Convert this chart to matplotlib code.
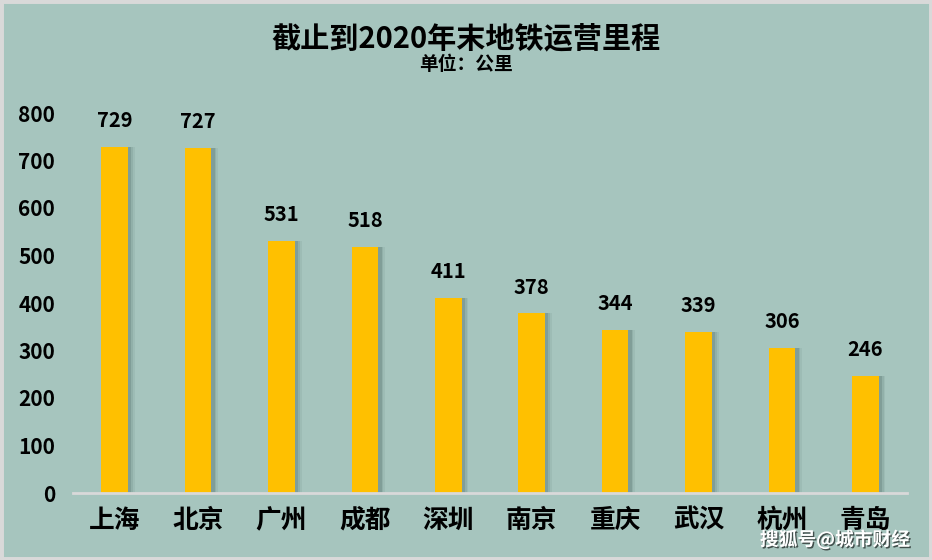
import matplotlib
matplotlib.use('Agg')
import matplotlib.pyplot as plt
from matplotlib.patches import Rectangle
import matplotlib.patheffects as pe

plt.rcParams['font.family'] = ['Noto Sans CJK SC', 'DejaVu Sans']

# data
cities = ['上海', '北京', '广州', '成都', '深圳', '南京', '重庆', '武汉', '杭州', '青岛']
km = [729, 727, 531, 518, 411, 378, 344, 339, 306, 246]
y_ticks = [0, 100, 200, 300, 400, 500, 600, 700, 800]

bg = '#A6C5BE'
bar_color = '#FFC000'

fig = plt.figure(figsize=(9.32, 5.6), dpi=100, facecolor=bg)
# light grey frame round the picture
fig.patches.append(Rectangle((0, 0), 1, 1, transform=fig.transFigure,
                             fill=False, edgecolor='#D9D9D9', linewidth=5, zorder=10))

ax = fig.add_axes([73/932, 1 - 493/560, 834/932, 380/560])
ax.set_facecolor(bg)

x = list(range(len(cities)))
# soft drop shadow
for off, a in [(0.08, 0.08), (0.06, 0.12), (0.04, 0.2)]:
    ax.bar([i + off for i in x], km, width=0.32, color='#3F5A55', alpha=a, zorder=1, linewidth=0)
ax.bar(x, km, width=0.32, color=bar_color, zorder=2, linewidth=0)

for i, v in zip(x, km):
    ax.annotate(str(v), (i, v), xytext=(0, 19), textcoords='offset points',
                ha='center', va='center', fontsize=14.5, fontweight='bold', color='black')

ax.set_xlim(-0.5, len(cities) - 0.5)
ax.set_ylim(0, 800)
ax.set_yticks(y_ticks)
ax.set_yticklabels([str(t) for t in y_ticks], fontsize=15, fontweight='bold')
ax.set_xticks(x)
ax.set_xticklabels(cities, fontsize=18.5, fontweight='bold')
ax.tick_params(axis='y', length=0, pad=13)
ax.tick_params(axis='x', length=0, pad=10)
for s in ['top', 'right', 'left']:
    ax.spines[s].set_visible(False)
ax.spines['bottom'].set_color('#D9D9D9')
ax.spines['bottom'].set_linewidth(2)

fig.text(0.5, 1 - 38/560, '截止到2020年末地铁运营里程', ha='center', va='center',
         fontsize=21, fontweight='bold')
fig.text(0.5, 1 - 64/560, '单位：公里', ha='center', va='center',
         fontsize=13.5, fontweight='bold')

# watermark
fig.text(910/932, 1 - 540/560, '搜狐号@城市财经', ha='right', va='center',
         fontsize=13.5, fontweight='bold', color='white',
         path_effects=[pe.withSimplePatchShadow(offset=(1, -1), shadow_rgbFace='black', alpha=0.6)])

fig.savefig('out.png', dpi=100, facecolor=bg)
